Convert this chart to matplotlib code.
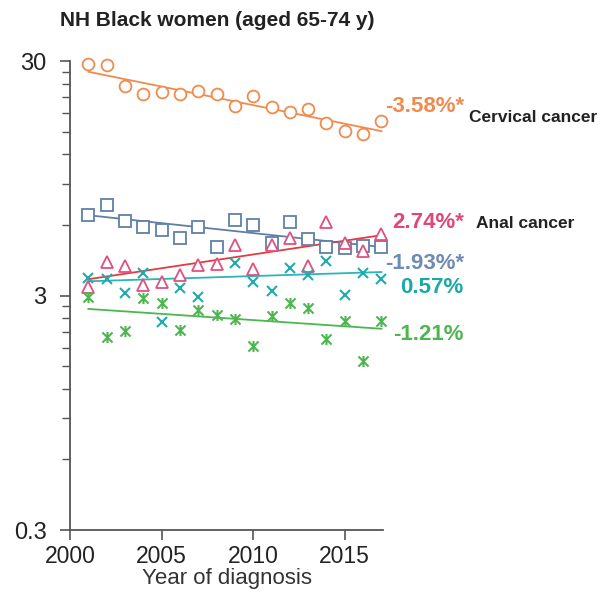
import numpy as np
import matplotlib
matplotlib.use("Agg")
import matplotlib.pyplot as plt
from matplotlib.path import Path
from matplotlib.ticker import FixedLocator, NullFormatter

plt.rcParams['font.family'] = ['Liberation Sans', 'DejaVu Sans']

years = np.arange(2001, 2018)

cervical = [29.0, 28.8, 23.5, 21.6, 22.1, 21.8, 22.3, 21.6, 19.3, 21.3,
            19.1, 18.2, 18.8, 16.3, 15.1, 14.6, 16.7]
blue_sq = [6.61, 7.29, 6.23, 5.89, 5.71, 5.29, 5.89, 4.82, 6.30, 6.00,
           5.04, 6.15, 5.21, 4.82, 4.77, 4.88, 4.82]
anal = [3.27, 4.16, 4.02, 3.33, 3.43, 3.67, 4.05, 4.09, 4.93, 3.88,
        4.93, 5.26, 4.01, 6.15, 5.01, 4.66, 5.47]
teal_x = [3.55, 3.53, 3.08, 3.73, 2.32, 3.22, 2.95, np.nan, 4.12, 3.43,
          3.14, 3.94, 3.67, 4.22, 3.01, 3.73, 3.53]
green_ast = [2.97, 2.00, 2.12, 2.92, 2.78, 2.14, 2.60, 2.48, 2.38, 1.83,
             2.45, 2.78, 2.66, 1.95, 2.34, 1.58, 2.34]

# annual percent change and fitted value in 2001
apc = [-3.58, -1.93, 2.74, 0.57, -1.21]
fit_start = [27.0, 6.6, 3.52, 3.45, 2.63]
apc_labels = ["-3.58%*", "-1.93%*", "2.74%*", "0.57%", "-1.21%"]

mark_cols = ["#EF8B4E", "#5F7FA8", "#E0507E", "#22ABAE", "#4DB74F"]
line_cols = ["#EF8B4E", "#5F7FA8", "#E63A3F", "#2BB5B8", "#4DB74F"]
label_cols = ["#EF8B4E", "#6E8BB3", "#E0457B", "#1AA9A5", "#4DB74F"]

# asterisk: x with a vertical bar
ast = Path([(-1, -1), (1, 1), (-1, 1), (1, -1), (0, -1.1), (0, 1.1)],
           [Path.MOVETO, Path.LINETO, Path.MOVETO, Path.LINETO, Path.MOVETO, Path.LINETO])

series = [cervical, blue_sq, anal, teal_x, green_ast]
markers = ['o', 's', '^', 'x', ast]
msizes = [8.5, 8, 8, 7, 8]

fig = plt.figure(figsize=(6.1, 5.97), dpi=100)
ax = fig.add_axes([0.1148, 0.1122, 0.5135, 0.7856])

for vals, mk, ms, mc, lc, a, s0 in zip(series, markers, msizes, mark_cols, line_cols, apc, fit_start):
    fit = s0 * (1 + a / 100.0) ** (years - years[0])
    ax.plot(years, fit, color=lc, lw=1.3, zorder=2, clip_on=False)
    if mk == 'x' or mk is ast:
        ax.plot(years, vals, ls='none', marker=mk, ms=ms, mec=mc, mew=1.5,
                zorder=3, clip_on=False)
    else:
        ax.plot(years, vals, ls='none', marker=mk, ms=ms, mfc='white', mec=mc,
                mew=1.3, zorder=3, clip_on=False)

ax.set_yscale('log')
ax.set_ylim(0.3, 30)
ax.set_xlim(2000, 2017.1)
ax.yaxis.set_major_locator(FixedLocator([0.3, 3, 30]))
ax.set_yticklabels(["0.3", "3", "30"])
minor = [0.3 * k for k in range(2, 10)] + [3 * k for k in range(2, 10)]
ax.yaxis.set_minor_locator(FixedLocator(minor))
ax.yaxis.set_minor_formatter(NullFormatter())
ax.set_xticks([2000, 2005, 2010, 2015])

for sp in ['top', 'right']:
    ax.spines[sp].set_visible(False)
for sp in ['left', 'bottom']:
    ax.spines[sp].set_color('#555555')
    ax.spines[sp].set_linewidth(1.3)
ax.tick_params(axis='both', which='major', direction='out', length=7, width=1.2,
               color='#555555', labelsize=17, labelcolor='#222222')
ax.tick_params(axis='y', which='major', pad=10)
ax.tick_params(axis='x', which='major', pad=4, labelsize=16.5)
ax.tick_params(axis='y', which='minor', direction='out', length=6, width=1.0,
               color='#555555')

ax.set_xlabel("Year of diagnosis", fontsize=16, color='#333333', labelpad=0)

fig.text(0.098, 0.965, "NH Black women (aged 65-74 y)", fontsize=15,
         fontweight='bold', color='#222222', va='center', ha='left')

label_y = [19.1, 4.09, 6.17, 3.26, 2.05]
for txt, c, yv in zip(apc_labels, label_cols, label_y):
    ax.text(2021.5, yv, txt, color=c, fontsize=16, fontweight='bold',
            ha='right', va='center', clip_on=False)

ax.text(2021.8, 17.3, "Cervical cancer", fontsize=12.5, fontweight='bold',
        color='#222222', ha='left', va='center', clip_on=False)
ax.text(2022.15, 6.1, "Anal cancer", fontsize=12.5, fontweight='bold',
        color='#222222', ha='left', va='center', clip_on=False)

fig.savefig("out.png", dpi=100)
